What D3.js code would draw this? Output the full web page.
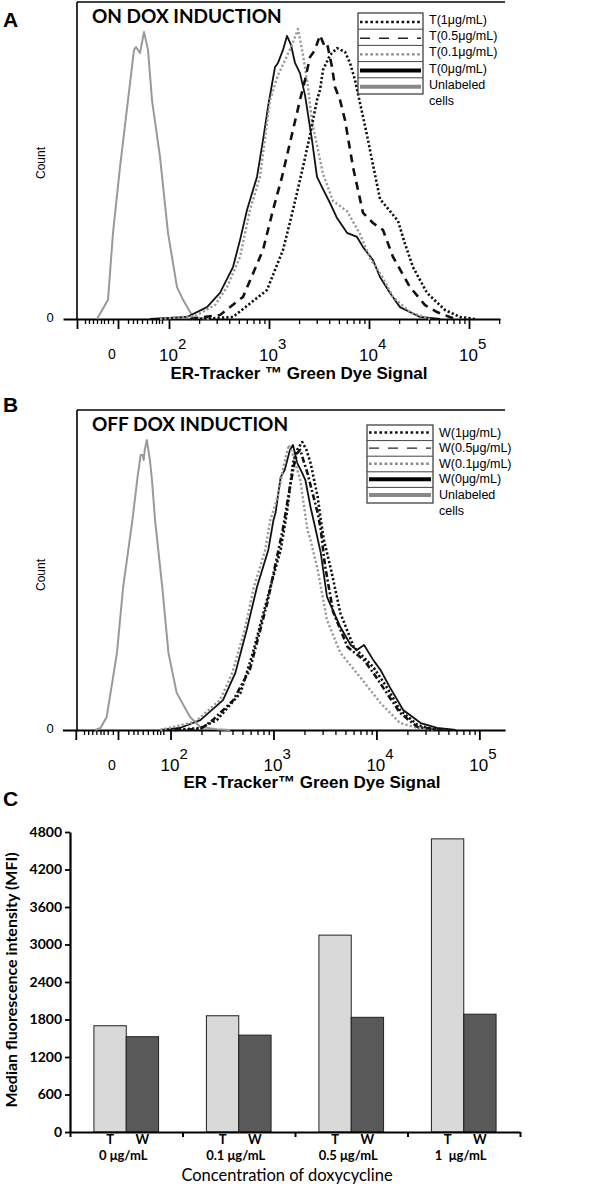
<!DOCTYPE html>
<html><head><meta charset="utf-8">
<script src="https://cdn.jsdelivr.net/npm/d3@7"></script>
<style>body{margin:0;background:#fff}svg{display:block}</style>
</head><body>
<svg id="chart" width="600" height="1186"></svg>
<script>
// ---------------- DATA ----------------
// Flow cytometry histograms: [log10 signal, relative count]
const decadeExponents = [2, 3, 4, 5];
const zeroTickLabel = "0";
const zeroLabelPos = 1.43;
const leftRegionTicks = [1.16,1.20,1.24,1.28,1.32,1.35,1.39,1.44,1.59,1.64,1.68,1.73,1.78,1.83,1.87,1.90,1.93];
const leftMajorTicks = [1.08, 1.49];

const legendLabelsA = ["T(1μg/mL)", "T(0.5μg/mL)", "T(0.1μg/mL)", "T(0μg/mL)", "Unlabeled"];
const legendLabelsB = ["W(1μg/mL)", "W(0.5μg/mL)", "W(0.1μg/mL)", "W(0μg/mL)", "Unlabeled"];

const A_unlabeled = [[1.28,0],[1.39,6.6],[1.44,29.7],[1.51,52.4],[1.59,75.5],[1.65,92.8],[1.67,93.8],[1.71,91.7],[1.75,99],[1.79,92.8],[1.83,75.5],[1.91,55.9],[1.99,29.7],[2.08,11],[2.14,6.6],[2.24,0.7],[2.4,0]];
const A_T0 = [[1.81,0],[2.18,0.7],[2.38,4.1],[2.51,9],[2.64,17.9],[2.71,27.2],[2.78,37.6],[2.88,49],[2.94,61.7],[2.99,73.1],[3.06,86.9],[3.09,88.3],[3.14,92.8],[3.18,97.6],[3.22,94.5],[3.26,88.3],[3.31,84.8],[3.36,77.2],[3.43,61.7],[3.48,49],[3.53,45.5],[3.61,40],[3.68,34.8],[3.78,29.7],[3.88,28.3],[3.94,24.8],[4.04,20.3],[4.11,14.5],[4.21,9],[4.31,4.1],[4.51,0.7],[4.71,0]];
const A_T01 = [[1.91,0],[2.26,1],[2.46,4.8],[2.58,11],[2.71,21.4],[2.81,37.6],[2.91,49],[3.01,75.5],[3.09,84.1],[3.16,89.3],[3.23,94.5],[3.29,100],[3.34,91],[3.39,80],[3.43,68],[3.48,60],[3.54,50],[3.64,40.7],[3.78,37.2],[3.91,29.3],[4.01,21],[4.14,14.1],[4.24,7.6],[4.41,2.4],[4.61,0]];
const A_T05 = [[2.21,0],[2.51,1.4],[2.74,7.6],[2.94,23.8],[3.04,37.6],[3.13,49],[3.24,65.2],[3.31,75.5],[3.36,82.4],[3.41,90.3],[3.46,92.8],[3.51,97.9],[3.55,94.5],[3.58,95.2],[3.63,86.9],[3.66,80],[3.71,75.5],[3.76,68.6],[3.84,52.4],[3.94,36.6],[4.04,33.1],[4.14,30.7],[4.24,21.4],[4.41,11],[4.56,4.8],[4.68,2.4],[4.86,0]];
const A_T1 = [[2.31,0],[2.64,0.7],[2.98,10],[3.14,23.8],[3.24,37.6],[3.34,52.4],[3.41,63.4],[3.48,75.5],[3.51,79],[3.54,85.9],[3.61,91],[3.68,93.4],[3.76,92.1],[3.81,88.3],[3.86,82.4],[3.91,74.5],[3.98,63.4],[4.03,54.8],[4.11,41.4],[4.21,37.2],[4.29,33.8],[4.36,25.9],[4.44,17.9],[4.58,9],[4.76,3.1],[4.91,0.7],[5.06,0]];

const B_unlabeled = [[1.27,0],[1.32,0.7],[1.38,4.5],[1.48,26.6],[1.54,49.3],[1.63,72.4],[1.68,87.2],[1.71,94.8],[1.73,94.8],[1.74,93.1],[1.75,96.6],[1.77,100],[1.80,93.1],[1.82,86.2],[1.85,72.4],[1.92,49.3],[1.98,26.6],[2.06,12.8],[2.19,4.5],[2.29,1],[2.45,0.3],[2.58,0]];
const B_W0 = [[1.90,0],[2.09,0.7],[2.29,3.4],[2.51,10.3],[2.63,19.7],[2.74,34.5],[2.84,49.3],[2.95,62.1],[3.00,72.4],[3.02,74.8],[3.07,87.2],[3.11,89.7],[3.16,96.6],[3.19,98.3],[3.23,92.1],[3.28,88.6],[3.31,86.2],[3.36,76.9],[3.40,70.7],[3.46,61],[3.52,45.9],[3.65,35.5],[3.75,29.3],[3.81,27.6],[3.88,29.3],[3.97,24.1],[4.04,20.7],[4.13,14.8],[4.26,6.9],[4.43,2.4],[4.59,0.7],[4.77,0]];
const B_W01 = [[1.90,0],[2.24,2.8],[2.48,10.3],[2.60,19.7],[2.72,34.5],[2.81,49.3],[2.92,62.1],[2.97,72.4],[3.04,80.3],[3.10,91.4],[3.15,98.3],[3.19,94.8],[3.26,86.2],[3.33,69],[3.36,65.5],[3.43,55.2],[3.52,37.9],[3.65,26.6],[3.84,18.3],[4.04,9.3],[4.23,2.4],[4.40,0.7],[4.58,0]];
const B_W05 = [[2.04,0],[2.29,0.3],[2.41,3.4],[2.61,10.3],[2.77,20.7],[2.94,43.8],[3.09,69],[3.16,83.8],[3.20,91.4],[3.23,95.5],[3.26,96.6],[3.29,93.1],[3.33,88.6],[3.43,74.8],[3.46,69],[3.50,56.9],[3.58,40.7],[3.72,28.6],[3.88,24.1],[3.97,19.7],[4.10,12.8],[4.23,5.9],[4.40,1],[4.63,0]];
const B_W1 = [[2.04,0],[2.29,0.7],[2.45,3.4],[2.68,12.8],[2.80,26.6],[2.97,49.3],[3.07,62.1],[3.13,74.8],[3.19,92.1],[3.23,96.6],[3.28,99.3],[3.32,96.6],[3.36,92.1],[3.43,80.3],[3.46,72.4],[3.49,65.5],[3.56,55.2],[3.65,40.3],[3.78,28.6],[3.97,21.7],[4.10,14.8],[4.23,6.9],[4.40,1.7],[4.55,0.3],[4.72,0]];

// Bar chart (panel C)
const doseLabels = ["0 μg/mL", "0.1 μg/mL", "0.5 μg/mL", "1  μg/mL"];
const groupKeys = ["T", "W"];
const tValues = [1700, 1860, 3150, 4690];
const wValues = [1525, 1550, 1835, 1885];
const mfiTicks = [0, 600, 1200, 1800, 2400, 3000, 3600, 4200, 4800];

// ---------------- DRAW ----------------
const svg = d3.select("#chart");
const ARIAL = "'Liberation Sans', Arial, sans-serif";
const LATO = "Lato, 'Open Sans', sans-serif";

// series styles (index: 0=1µg,1=0.5µg,2=0.1µg,3=0µg,4=unlabeled)
const curveStyle = [
  {stroke:"#111", width:2.6, dash:"2.2,2.2"},
  {stroke:"#111", width:2.6, dash:"8,6"},
  {stroke:"#999", width:2.4, dash:"2.2,2.2"},
  {stroke:"#111", width:1.8, dash:null},
  {stroke:"#999", width:2.0, dash:null}
];
const legendStyle = [
  {stroke:"#111", width:2.6, dash:"2.6,2.6"},
  {stroke:"#222", width:1.4, dash:"10,9"},
  {stroke:"#888", width:2.4, dash:"2.6,2.6"},
  {stroke:"#000", width:4, dash:null},
  {stroke:"#888", width:4, dash:null}
];

function histPanel(cfg) {
  const g = svg.append("g");
  const x = d3.scaleLinear().domain(cfg.xDomain).range(cfg.xRange);
  const y = d3.scaleLinear().domain([0, 100]).range([cfg.base, cfg.top]);

  // frame
  g.append("line").attr("x1", cfg.frameLeft).attr("x2", cfg.frameLeft)
    .attr("y1", cfg.frameTop).attr("y2", cfg.base).attr("stroke", "#000").attr("stroke-width", 1.6);
  g.append("line").attr("x1", cfg.frameLeft).attr("x2", cfg.frameRight)
    .attr("y1", cfg.frameTop).attr("y2", cfg.frameTop).attr("stroke", "#000").attr("stroke-width", 1.6);

  // x axis
  const minor = [];
  decadeExponents.forEach(d => { for (let k = 2; k <= 9; k++) { const t = d + Math.log10(k); if (t <= cfg.xDomain[1]) minor.push(t); } });
  const axMinor = d3.axisBottom(x).tickValues(minor.concat(leftRegionTicks)).tickSize(5).tickFormat("").tickSizeOuter(0);
  const axMajor = d3.axisBottom(x).tickValues(decadeExponents.concat(leftMajorTicks)).tickSize(10).tickFormat("").tickSizeOuter(0);
  const ga = g.append("g").attr("transform", `translate(0,${cfg.base})`).call(axMinor);
  ga.select(".domain").attr("stroke-width", 2);
  ga.selectAll(".tick line").attr("stroke-width", 1.3);
  const gb = g.append("g").attr("transform", `translate(0,${cfg.base})`).call(axMajor);
  gb.select(".domain").remove();
  gb.selectAll(".tick line").attr("stroke-width", 1.8);

  // tick labels
  g.append("text").attr("x", x(zeroLabelPos)).attr("y", cfg.base + 40).attr("text-anchor", "middle")
    .attr("font-family", ARIAL).attr("font-size", 14).text(zeroTickLabel);
  const lab = g.selectAll(".declab").data(decadeExponents).join("text")
    .attr("x", d => x(d) - 10).attr("y", cfg.base + cfg.labelDy)
    .attr("font-family", ARIAL).attr("font-size", 17);
  lab.append("tspan").text("10");
  lab.append("tspan").attr("dy", -12).attr("font-size", 15).text(d => d);

  // axis title
  g.append("text").attr("x", cfg.titleX).attr("y", cfg.base + cfg.titleDy).attr("text-anchor", "middle")
    .attr("font-family", ARIAL).attr("font-weight", "bold").attr("font-size", 17).text(cfg.xTitle);

  // y labels
  g.append("text").attr("x", 50).attr("y", cfg.base + 3).attr("text-anchor", "middle")
    .attr("font-family", ARIAL).attr("font-size", 13).text("0");
  g.append("text").attr("transform", `translate(45,${cfg.countY}) rotate(-90)`).attr("text-anchor", "middle")
    .attr("font-family", ARIAL).attr("font-size", 12).text("Count");

  // curves
  const line = d3.line().x(d => x(d[0])).y(d => y(d[1]));
  cfg.series.forEach(s => {
    const st = curveStyle[s.style];
    g.append("path").datum(s.data).attr("d", line).attr("fill", "none")
      .attr("stroke", st.stroke).attr("stroke-width", st.width)
      .attr("stroke-dasharray", s.dash || st.dash).attr("stroke-linejoin", "round");
  });

  // panel title & letter
  g.append("text").attr("x", cfg.frameLeft + 15).attr("y", cfg.frameTop + 21)
    .attr("font-family", LATO).attr("font-weight", "bold").attr("font-size", 19).text(cfg.title);
  g.append("text").attr("x", 3).attr("y", cfg.letterY).attr("font-family", ARIAL)
    .attr("font-weight", "bold").attr("font-size", 21).text(cfg.letter);

  // legend
  const L = cfg.legend;
  const rows = cfg.legendLabels.length;
  const lg = g.append("g");
  lg.append("rect").attr("x", L.x).attr("y", L.y).attr("width", L.w).attr("height", L.rowH * rows)
    .attr("fill", "#fff").attr("stroke", "#333").attr("stroke-width", 1.2);
  for (let i = 1; i < rows; i++) {
    lg.append("line").attr("x1", L.x).attr("x2", L.x + L.w).attr("y1", L.y + i * L.rowH).attr("y2", L.y + i * L.rowH)
      .attr("stroke", "#444").attr("stroke-width", 1);
  }
  cfg.legendLabels.forEach((lbl, i) => {
    const st = legendStyle[i];
    const yy = L.y + i * L.rowH + L.sampleDy;
    lg.append("line").attr("x1", L.x + 2).attr("x2", L.x + L.w - 2).attr("y1", yy).attr("y2", yy)
      .attr("stroke", st.stroke).attr("stroke-width", st.width).attr("stroke-dasharray", st.dash);
    lg.append("text").attr("x", L.x + L.w + 6).attr("y", yy + L.textDy)
      .attr("font-family", ARIAL).attr("font-size", 12.5).text(lbl);
  });
  lg.append("text").attr("x", L.x + L.w + 6).attr("y", L.y + (rows - 1) * L.rowH + L.sampleDy + L.textDy + 16)
    .attr("font-family", ARIAL).attr("font-size", 12.5).text("cells");
}

histPanel({
  letter: "A", letterY: 27, title: "ON DOX INDUCTION",
  xDomain: [0.94, 5.31], xRange: [63, 500], base: 319, top: 29,
  frameLeft: 77, frameTop: 2, frameRight: 505,
  labelDy: 42, titleX: 299, titleDy: 60, xTitle: "ER-Tracker \u2122 Green Dye Signal", countY: 163,
  legend: {x: 358, y: 13, w: 65, rowH: 16.2, sampleDy: 9, textDy: 2},
  legendLabels: legendLabelsA,
  series: [
    {data: A_unlabeled, style: 4},
    {data: A_T0, style: 3},
    {data: A_T01, style: 2},
    {data: A_T05, style: 1},
    {data: A_T1, style: 0}
  ]
});

histPanel({
  letter: "B", letterY: 412, title: "OFF DOX INDUCTION",
  xDomain: [0.95, 5.25], xRange: [62.4, 505.1], base: 730, top: 440,
  frameLeft: 77, frameTop: 410, frameRight: 505,
  labelDy: 41, titleX: 312, titleDy: 58, xTitle: "ER -Tracker\u2122 Green Dye Signal", countY: 575,
  legend: {x: 367, y: 425, w: 66, rowH: 15.6, sampleDy: 7.5, textDy: 4},
  legendLabels: legendLabelsB,
  series: [
    {data: B_unlabeled, style: 4},
    {data: B_W0, style: 3},
    {data: B_W01, style: 2},
    {data: B_W05, style: 1, dash: "6,2.5,2,2.5"},
    {data: B_W1, style: 0}
  ]
});

// ---------------- PANEL C ----------------
(function () {
  const g = svg.append("g");
  const left = 70, right = 520, base = 1132, top = 832;
  const x0 = d3.scaleBand().domain(doseLabels).range([left, right]);
  const x1 = d3.scaleBand().domain(groupKeys).range([0, x0.bandwidth()]).paddingOuter(0.74).paddingInner(0);
  const y = d3.scaleLinear().domain([0, 4800]).range([base, top]);
  const xb = d3.scaleLinear().domain([0, doseLabels.length]).range([left, right]);

  const rows = doseLabels.map((d, i) => ({dose: d, T: tValues[i], W: wValues[i]}));
  const fills = {T: "#d9d9d9", W: "#595959"};
  const grp = g.selectAll(".grp").data(rows).join("g").attr("transform", d => `translate(${x0(d.dose)},0)`);
  grp.selectAll("rect").data(d => groupKeys.map(k => ({k, v: d[k]}))).join("rect")
    .attr("x", d => x1(d.k)).attr("width", x1.bandwidth())
    .attr("y", d => y(d.v)).attr("height", d => base - y(d.v))
    .attr("fill", d => fills[d.k]).attr("stroke", "#222").attr("stroke-width", 1);

  const ay = g.append("g").attr("transform", `translate(${left},0)`)
    .call(d3.axisLeft(y).tickValues(mfiTicks).tickSize(5).tickPadding(3).tickSizeOuter(0).tickFormat(d3.format("d")));
  ay.select(".domain").attr("stroke-width", 2.2);
  ay.selectAll(".tick line").attr("stroke-width", 1.8);
  ay.selectAll("text").attr("font-family", LATO).attr("font-weight", "bold").attr("font-size", 14).attr("fill", "#000");

  const ax = g.append("g").attr("transform", `translate(0,${base})`)
    .call(d3.axisBottom(xb).tickValues(d3.range(0, doseLabels.length + 1)).tickSize(5).tickFormat("").tickSizeOuter(0));
  ax.select(".domain").attr("stroke-width", 2.2);
  ax.selectAll(".tick line").attr("stroke-width", 2);

  grp.selectAll(".key").data(groupKeys).join("text")
    .attr("x", k => x1(k) + x1.bandwidth() / 2).attr("y", base + 12).attr("text-anchor", "middle")
    .attr("font-family", LATO).attr("font-weight", "bold").attr("font-size", 13).text(k => k);
  grp.append("text").attr("x", x0.bandwidth() / 2 - 3).attr("y", base + 28).attr("text-anchor", "middle")
    .attr("font-family", LATO).attr("font-weight", "bold").attr("font-size", 13)
    .style("white-space", "pre").text(d => d.dose);

  g.append("text").attr("x", 287).attr("y", 1181).attr("text-anchor", "middle")
    .attr("font-family", LATO).attr("font-size", 16.5).text("Concentration of doxycycline");
  g.append("text").attr("transform", `translate(17,${(base + top) / 2 - 2}) rotate(-90)`).attr("text-anchor", "middle")
    .attr("font-family", LATO).attr("font-weight", "bold").attr("font-size", 16).text("Median fluorescence intensity (MFI)");
  g.append("text").attr("x", 3).attr("y", 806).attr("font-family", ARIAL)
    .attr("font-weight", "bold").attr("font-size", 21).text("C");
})();
</script>
</body></html>
